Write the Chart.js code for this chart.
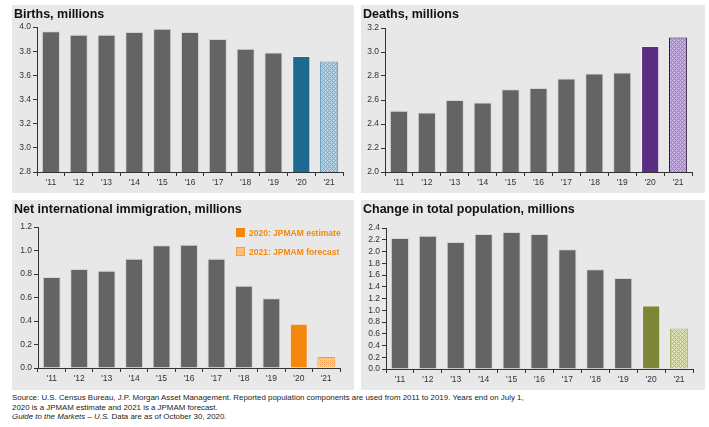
<!DOCTYPE html>
<html>
<head>
<meta charset="utf-8">
<script src="https://cdn.jsdelivr.net/npm/chart.js@4.4.1/dist/chart.umd.min.js"></script>
<style>
  body { margin: 0; background: #fff; font-family: "Liberation Sans", Arial, sans-serif; }
  .panel { position: absolute; background: #e8e8e8; }
  .panel canvas { position: absolute; left: 0; top: 0; }
  .title { position: absolute; left: 2px; top: 2px; font-weight: bold; font-size: 12.5px; color: #111; white-space: nowrap; }
  .legend { position: absolute; font-size: 8.5px; font-weight: bold; color: #f5880c; white-space: nowrap; }
  .legend .sw { display: inline-block; width: 9px; height: 9px; vertical-align: -1px; margin-right: 4px; }
  .footer { position: absolute; left: 12px; top: 393px; font-size: 7.9px; line-height: 9.5px; color: #222; }
</style>
</head>
<body>
<div class="panel" id="p1" style="left:12px;top:5px;width:342px;height:188px;">
  <canvas id="c1" width="342" height="188"></canvas>
  <div class="title">Births, millions</div>
</div>
<div class="panel" id="p2" style="left:361px;top:5px;width:344px;height:188px;">
  <canvas id="c2" width="344" height="188"></canvas>
  <div class="title">Deaths, millions</div>
</div>
<div class="panel" id="p3" style="left:12px;top:200px;width:342px;height:190px;">
  <canvas id="c3" width="342" height="190"></canvas>
  <div class="title">Net international immigration, millions</div>
  <div class="legend" style="left:224px;top:28px;"><span class="sw" style="background:#f5880c"></span>2020: JPMAM estimate</div>
  <div class="legend" style="left:224px;top:47px;"><span class="sw" style="background:#fbc07e;border:1px solid #f5a040;box-sizing:border-box"></span>2021: JPMAM forecast</div>
</div>
<div class="panel" id="p4" style="left:361px;top:200px;width:344px;height:190px;">
  <canvas id="c4" width="344" height="190"></canvas>
  <div class="title">Change in total population, millions</div>
</div>
<div class="footer">
  Source: U.S. Census Bureau, J.P. Morgan Asset Management. Reported population components are used from 2011 to 2019. Years end on July 1,<br>
  2020 is a JPMAM estimate and 2021 is a JPMAM forecast.<br>
  <i>Guide to the Markets – U.S.</i> Data are as of October 30, 2020.
</div>
<script>
var years = ["'11", "'12", "'13", "'14", "'15", "'16", "'17", "'18", "'19", "'20", "'21"];
var births = [3.965, 3.936, 3.935, 3.958, 3.986, 3.958, 3.90, 3.82, 3.79, 3.76, 3.715];
var deaths = [2.51, 2.495, 2.60, 2.58, 2.69, 2.70, 2.78, 2.82, 2.83, 3.05, 3.12];
var immigration = [0.774, 0.843, 0.828, 0.93, 1.044, 1.05, 0.93, 0.70, 0.593, 0.377, 0.094];
var population = [2.23, 2.27, 2.16, 2.30, 2.33, 2.30, 2.04, 1.70, 1.55, 1.08, 0.69];

function hatch(light, dark) {
  var c = document.createElement('canvas');
  c.width = 4; c.height = 4;
  var x = c.getContext('2d');
  x.fillStyle = light; x.fillRect(0, 0, 4, 4);
  x.fillStyle = dark;
  x.fillRect(0, 0, 1, 1); x.fillRect(2, 2, 1, 1);
  x.fillRect(2, 0, 1, 1); x.fillRect(0, 2, 1, 1);
  x.fillRect(1, 1, 1, 1); x.fillRect(3, 3, 1, 1);
  return x.createPattern(c, 'repeat');
}

function makeChart(id, values, min, max, step, c20, c21light, c21dark, c21border, box) {
  var ctx = document.getElementById(id).getContext('2d');
  var grey = '#646464';
  var bg = values.map(function (v, i) {
    if (i === 9) return c20;
    if (i === 10) return hatch(c21light, c21dark);
    return grey;
  });
  var bc = values.map(function (v, i) {
    if (i === 9) return 'rgba(255,255,255,0.25)';
    if (i === 10) return c21border;
    return 'rgba(200,200,200,0.6)';
  });
  return new Chart(ctx, {
    type: 'bar',
    data: {
      labels: years,
      datasets: [{ data: values, backgroundColor: bg, borderColor: bc, borderWidth: 1,
        categoryPercentage: 1, barPercentage: 0.65 }]
    },
    options: {
      responsive: false,
      animation: false,
      layout: { padding: { top: box.top, right: box.right, left: 0, bottom: 0 } },
      plugins: { legend: { display: false }, tooltip: { enabled: false } },
      scales: {
        x: {
          grid: { drawOnChartArea: false, color: '#333', tickLength: 4, offset: true },
          border: { color: '#333', width: 1 },
          ticks: { color: '#333', font: { size: 8.5, family: 'Liberation Sans' }, padding: 2 },
          afterFit: function (s) { s.height = box.bottom; }
        },
        y: {
          min: min, max: max,
          grid: { drawOnChartArea: false, color: '#333', tickLength: 4 },
          border: { color: '#333', width: 1 },
          ticks: { stepSize: step, autoSkip: false, color: '#333', font: { size: 8.5, family: 'Liberation Sans' }, padding: 2,
            callback: function (v) { return v.toFixed(1); } },
          afterFit: function (s) { s.width = box.left; }
        }
      }
    }
  });
}

makeChart('c1', births, 2.8, 4.0, 0.2, '#1b6a90', '#b4d2e4', '#7fa9c4', '#5f97bb',
  { top: 22, right: 11, left: 25, bottom: 21 });
makeChart('c2', deaths, 2.0, 3.2, 0.2, '#5a2d82', '#c4aedb', '#9a80b8', '#2a1a3a',
  { top: 23, right: 13, left: 24, bottom: 21 });
makeChart('c3', immigration, 0, 1.2, 0.2, '#f5880c', '#fcd09c', '#f6aa5a', '#f5a040',
  { top: 27, right: 14, left: 26, bottom: 22 });
makeChart('c4', population, 0, 2.4, 0.2, '#7d8636', '#dcdfb4', '#b4b97c', '#b0b470',
  { top: 28, right: 12, left: 25, bottom: 21 });
</script>
</body>
</html>
